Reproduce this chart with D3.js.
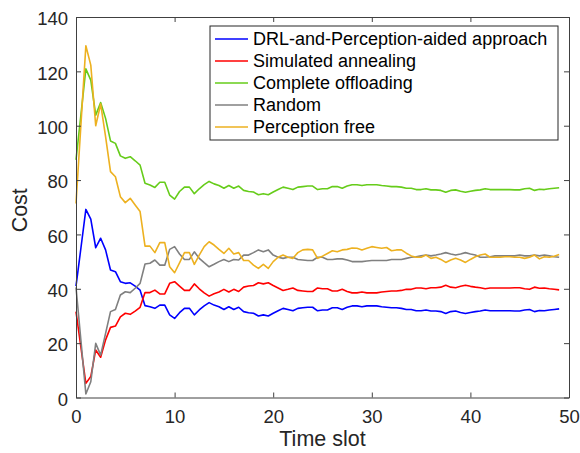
<!DOCTYPE html>
<html>
<head>
<meta charset="utf-8">
<script src="https://cdn.jsdelivr.net/npm/d3@7"></script>
<style>
  body { margin: 0; background: #fff; }
  text { font-family: "Liberation Sans", Arial, Helvetica, sans-serif; }
</style>
</head>
<body>
<div id="wrapper"></div>
<script>
// time slots 0, 0.5, ... 49
const timeSlots = d3.range(99).map(i => i / 2)

const drlValues = [
  41.0, 55.0, 69.2, 65.6, 55.1, 58.6, 54.3, 46.9, 46.3, 42.6, 42.0, 42.2, 41.0, 39.5, 33.8, 33.4, 32.8, 34.0, 34.0, 30.4, 29.1,
  31.2, 32.8, 32.8, 30.4, 32.2, 33.7, 34.9, 34.0, 33.4, 32.4, 33.4, 32.4, 33.2, 31.6, 31.2, 31.0, 30.0, 30.4, 30.0, 31.0,
  31.9, 32.8, 32.4, 31.9, 32.8, 33.0, 33.2, 33.2, 31.9, 32.2, 32.2, 33.0, 33.0, 32.4, 33.2, 33.7, 33.7, 33.4, 33.7,
  33.7, 33.7, 33.4, 33.2, 33.0, 33.0, 32.8, 32.4, 32.4, 31.9, 31.9, 32.2, 31.8, 31.8, 31.6, 30.9, 31.6, 31.8, 31.3, 30.9,
  31.3, 31.6, 31.8, 32.2, 31.9, 31.9, 31.9, 31.9, 31.9, 31.8, 31.8, 32.2, 32.4, 31.6, 32.0, 31.9, 32.2, 32.4, 32.6
]
const annealingValues = [
  31.6, 18.4, 5.2, 7.7, 17.5, 14.8, 21.2, 25.8, 26.3, 29.7, 31.0, 30.6, 31.8, 33.2, 38.6, 38.6, 39.5, 38.1, 38.1, 42.0, 42.6,
  41.0, 39.4, 39.4, 41.8, 40.0, 38.5, 37.3, 38.2, 38.8, 39.8, 38.8, 39.8, 39.0, 40.6, 41.0, 41.2, 42.2, 41.8, 42.2, 41.2,
  40.3, 39.4, 39.8, 40.3, 39.4, 39.2, 39.0, 39.0, 40.3, 40.0, 40.0, 39.2, 39.2, 39.8, 39.0, 38.5, 38.5, 38.8, 38.5,
  38.5, 38.5, 38.8, 39.0, 39.2, 39.2, 39.4, 39.8, 39.8, 40.3, 40.3, 40.0, 40.4, 40.4, 40.6, 41.3, 40.6, 40.4, 40.9, 41.3,
  40.9, 40.6, 40.4, 40.0, 40.3, 40.3, 40.3, 40.3, 40.3, 40.4, 40.4, 40.0, 39.8, 40.6, 40.2, 40.3, 40.0, 39.8, 39.6
]
const offloadingValues = [
  87.4, 104.0, 120.9, 116.8, 103.9, 108.5, 102.7, 94.4, 93.5, 88.9, 88.0, 88.6, 87.1, 85.5, 78.8, 78.2, 77.3, 79.2, 79.2, 74.5, 73.0,
  75.8, 77.4, 77.4, 75.0, 76.8, 78.3, 79.5, 78.6, 78.0, 77.0, 78.0, 77.0, 77.8, 76.2, 75.8, 75.6, 74.6, 75.0, 74.6, 75.6,
  76.5, 77.4, 77.0, 76.5, 77.4, 77.6, 77.8, 77.8, 76.5, 76.8, 76.8, 77.6, 77.6, 77.0, 77.8, 78.3, 78.3, 78.0, 78.3,
  78.3, 78.3, 78.0, 77.8, 77.6, 77.6, 77.4, 77.0, 77.0, 76.5, 76.5, 76.8, 76.4, 76.4, 76.2, 75.5, 76.2, 76.4, 75.9, 75.5,
  75.9, 76.2, 76.4, 76.8, 76.5, 76.5, 76.5, 76.5, 76.5, 76.4, 76.4, 76.8, 77.0, 76.2, 76.6, 76.5, 76.8, 77.0, 77.2
]
const randomValues = [
  40.5, 20.9, 1.3, 5.8, 19.9, 15.6, 23.6, 31.6, 32.4, 37.7, 38.9, 38.6, 40.2, 42.0, 49.1, 49.4, 50.6, 48.7, 48.7, 54.5, 55.5,
  52.8, 50.8, 50.8, 53.6, 51.2, 49.6, 48.1, 49.0, 50.0, 50.8, 50.0, 50.8, 50.6, 52.4, 52.4, 53.3, 54.3, 53.6, 54.3, 52.4,
  51.6, 51.2, 51.6, 51.6, 50.8, 50.6, 50.4, 50.4, 51.6, 51.6, 50.8, 50.8, 51.0, 51.0, 50.6, 50.0, 50.0, 50.0, 50.2,
  50.4, 50.4, 50.4, 50.4, 50.8, 50.8, 50.8, 51.2, 51.6, 51.8, 52.1, 52.4, 52.1, 52.4, 52.8, 53.3, 52.8, 52.4, 52.8, 53.3,
  52.8, 52.4, 51.6, 51.6, 51.8, 52.1, 52.1, 52.1, 52.1, 52.1, 52.4, 52.1, 52.1, 52.4, 52.1, 52.4, 52.1, 51.8, 51.6
]
const perceptionFreeValues = [
  71.4, 100.4, 129.4, 122.3, 100.0, 108.0, 96.0, 83.1, 81.2, 73.9, 71.7, 73.3, 70.8, 68.4, 55.7, 55.7, 53.3, 57.0, 57.0, 48.1, 45.9,
  49.5, 53.3, 53.3, 49.0, 52.4, 55.5, 57.3, 56.1, 54.5, 53.0, 54.9, 52.8, 53.3, 50.4, 50.4, 48.7, 47.5, 49.0, 47.5, 50.0,
  51.6, 52.4, 51.6, 51.2, 53.3, 54.3, 54.5, 54.3, 51.2, 52.0, 53.0, 54.0, 53.6, 54.3, 54.5, 55.0, 54.9, 54.3, 54.9,
  55.5, 55.2, 54.9, 55.2, 54.0, 54.3, 54.3, 53.1, 52.1, 51.6, 51.6, 52.4, 51.2, 51.6, 50.8, 49.7, 50.6, 51.2, 50.6, 49.7,
  50.8, 51.8, 52.4, 52.8, 51.6, 51.6, 51.6, 51.8, 51.8, 51.6, 51.6, 51.2, 51.6, 52.4, 51.0, 51.8, 51.6, 52.0, 52.6
]

const seriesNames = [
  "DRL-and-Perception-aided approach",
  "Simulated annealing",
  "Complete offloading",
  "Random",
  "Perception free"
]
const seriesColors = ["#0000ff", "#ff0000", "#66cc1a", "#808080", "#edb120"]
const xTicks = [0, 10, 20, 30, 40, 50]
const yTicks = [0, 20, 40, 60, 80, 100, 120, 140]

function drawChart() {
  const allSeries = [drlValues, annealingValues, offloadingValues, randomValues, perceptionFreeValues]

  // 1. Dimensions
  let dimensions = {
    width: 580,
    height: 453,
    margin: { top: 17, right: 11, bottom: 55.5, left: 76 }
  }
  dimensions.boundedWidth = dimensions.width - dimensions.margin.left - dimensions.margin.right
  dimensions.boundedHeight = dimensions.height - dimensions.margin.top - dimensions.margin.bottom

  // 2. Canvas
  const wrapper = d3.select("#wrapper")
    .append("svg")
      .attr("width", dimensions.width)
      .attr("height", dimensions.height)

  const bounds = wrapper.append("g")
      .attr("transform", `translate(${dimensions.margin.left}, ${dimensions.margin.top})`)

  // 3. Scales
  const xScale = d3.scaleLinear()
    .domain([0, 50])
    .range([0, dimensions.boundedWidth])

  const yScale = d3.scaleLinear()
    .domain([0, 140])
    .range([dimensions.boundedHeight, 0])

  // 4. Lines
  const lineGenerator = d3.line()
    .x((d, i) => xScale(timeSlots[i]))
    .y(d => yScale(d))

  bounds.append("g")
    .selectAll("path")
    .data(allSeries)
    .join("path")
      .attr("d", lineGenerator)
      .attr("fill", "none")
      .attr("stroke", (d, i) => seriesColors[i])
      .attr("stroke-width", 1.6)
      .attr("stroke-linejoin", "round")

  // 5. Axes (box with inward ticks)
  const axisColor = "#404040"
  const tickFont = "18.5px"

  const styleAxis = g => {
    g.select(".domain").attr("stroke", axisColor).attr("stroke-width", 1)
    g.selectAll(".tick line").attr("stroke", axisColor)
    g.selectAll(".tick text")
      .attr("fill", "#262626")
      .style("font-size", tickFont)
      .style("font-family", "'Liberation Sans', Arial, sans-serif")
  }

  bounds.append("g")
      .attr("transform", `translate(0, ${dimensions.boundedHeight})`)
      .call(d3.axisBottom(xScale).tickValues(xTicks).tickSizeInner(-5).tickSizeOuter(0).tickPadding(12))
      .call(styleAxis)

  bounds.append("g")
      .call(d3.axisLeft(yScale).tickValues(yTicks).tickSizeInner(-5).tickSizeOuter(0).tickPadding(8))
      .call(styleAxis)
      .call(g => g.selectAll(".tick text").attr("dy", "0.42em"))

  bounds.append("g")
      .call(d3.axisTop(xScale).tickValues(xTicks).tickSizeInner(-5).tickSizeOuter(0).tickFormat(""))
      .call(styleAxis)

  bounds.append("g")
      .attr("transform", `translate(${dimensions.boundedWidth}, 0)`)
      .call(d3.axisRight(yScale).tickValues(yTicks).tickSizeInner(-5).tickSizeOuter(0).tickFormat(""))
      .call(styleAxis)

  // 6. Axis labels
  bounds.append("text")
      .attr("x", dimensions.boundedWidth / 2)
      .attr("y", dimensions.boundedHeight + 48)
      .attr("text-anchor", "middle")
      .attr("fill", "#262626")
      .style("font-size", "21.5px")
      .text("Time slot")

  bounds.append("text")
      .attr("transform", `translate(${-49}, ${dimensions.boundedHeight / 2 + 3}) rotate(-90)`)
      .attr("text-anchor", "middle")
      .attr("fill", "#262626")
      .style("font-size", "21.5px")
      .text("Cost")

  // 7. Legend
  const legend = bounds.append("g")
      .attr("transform", `translate(${210 - dimensions.margin.left}, ${26 - dimensions.margin.top})`)

  legend.append("rect")
      .attr("width", 348)
      .attr("height", 114)
      .attr("fill", "#fff")
      .attr("stroke", "#262626")
      .attr("stroke-width", 1)

  const rows = legend.selectAll(".row")
    .data(seriesNames)
    .join("g")
      .attr("class", "row")
      .attr("transform", (d, i) => `translate(0, ${13 + i * 22})`)

  rows.append("line")
      .attr("x1", 5)
      .attr("x2", 38)
      .attr("stroke", (d, i) => seriesColors[i])
      .attr("stroke-width", 1.6)

  rows.append("text")
      .attr("x", 43)
      .attr("dy", "0.36em")
      .attr("fill", "#000")
      .style("font-size", "18px")
      .text(d => d)
}

drawChart()
</script>
</body>
</html>
